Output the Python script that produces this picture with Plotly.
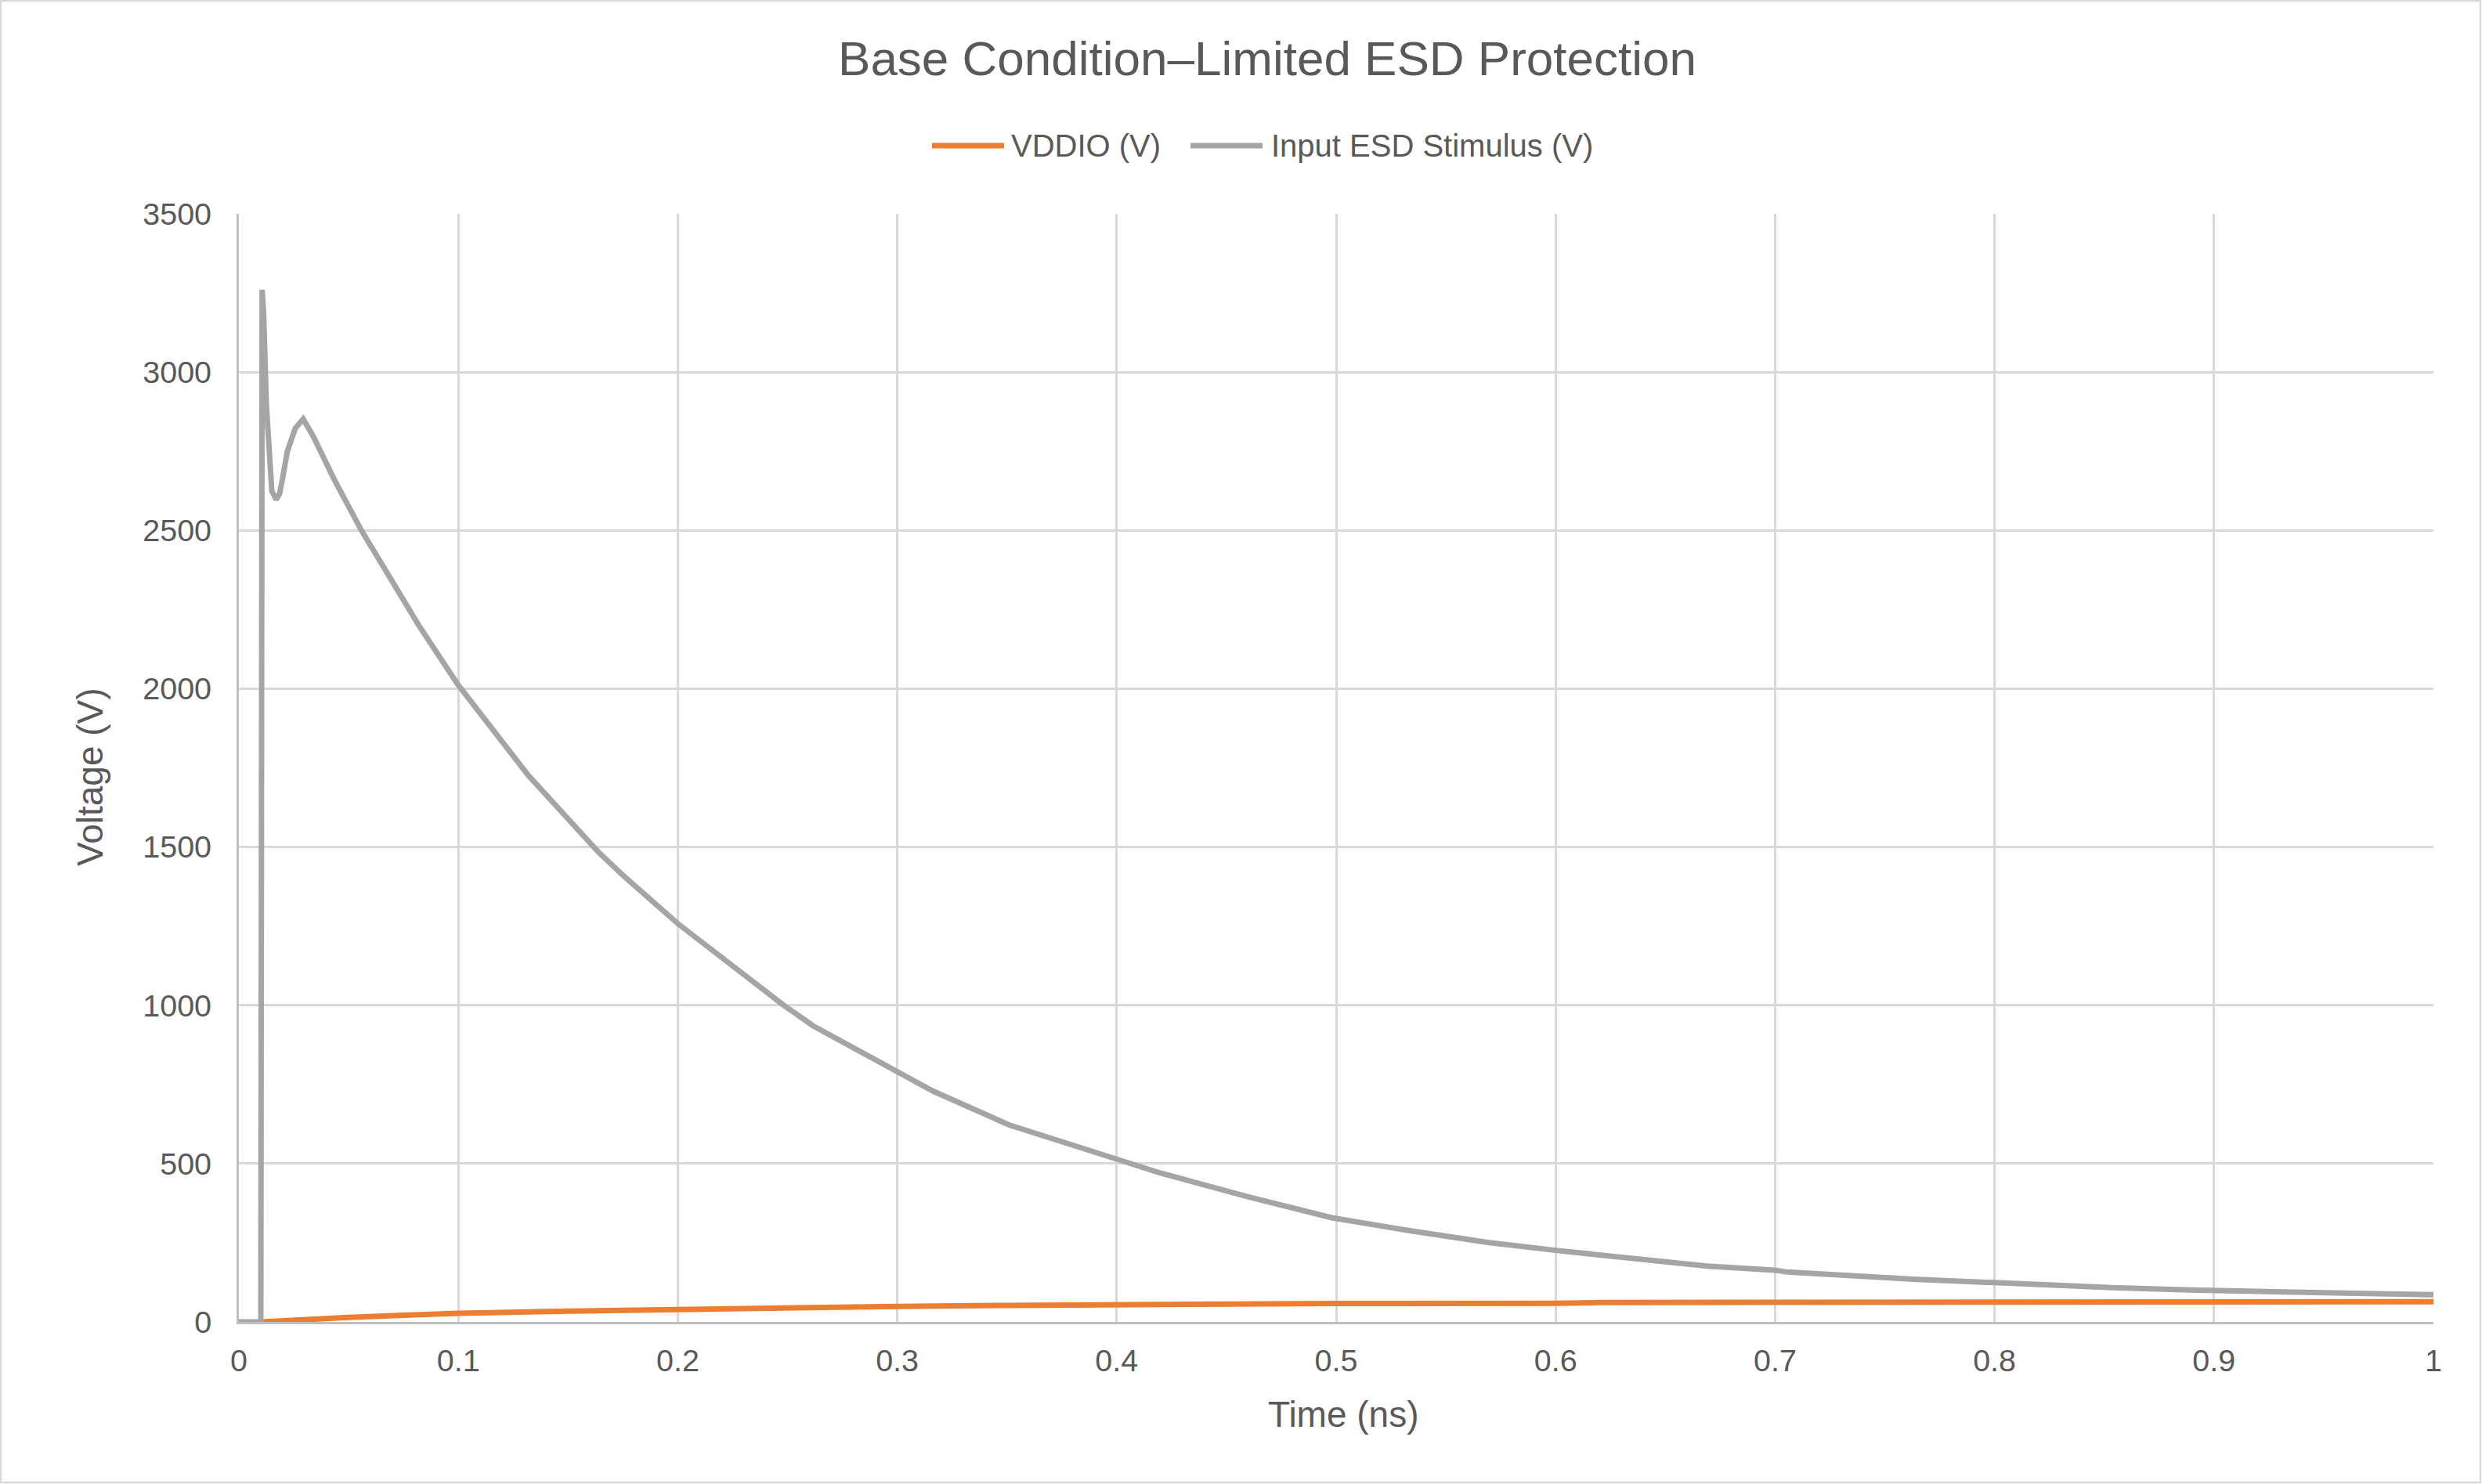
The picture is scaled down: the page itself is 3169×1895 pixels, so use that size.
import plotly.graph_objects as go

# ---- data ----
time_vddio = [0.0100, 0.0200, 0.0330, 0.0500, 0.0750, 0.100, 0.150, 0.200, 0.250, 0.300,
              0.350, 0.400, 0.450, 0.500, 0.600, 0.620, 0.700, 0.800, 0.900, 0.950, 0.980, 1.000]
vddio = [0, 4, 9, 14, 21, 27, 34, 40, 45, 49,
         52, 55, 57, 58, 59, 61, 62, 62, 62, 62, 64, 64]

time_esd = [0.0, 0.0100, 0.0106, 0.0113, 0.0125, 0.0137, 0.0150, 0.0170, 0.0185, 0.0198,
            0.0221, 0.0257, 0.0293, 0.0339, 0.0405, 0.0435, 0.0560, 0.0704, 0.0745, 0.0820,
            0.0998, 0.1121, 0.1319, 0.1640, 0.1756, 0.2000, 0.2481, 0.2617, 0.2800, 0.3000,
            0.3163, 0.3510, 0.3866, 0.4200, 0.4600, 0.4980, 0.5335, 0.5690, 0.6000, 0.6270,
            0.6690, 0.7000, 0.7050, 0.7630, 0.8000, 0.8536, 0.8890, 0.9000, 0.9500, 1.0000]
esd_stimulus = [0, 0, 3260, 3180, 2900, 2730, 2625, 2597, 2615, 2660,
                2750, 2822, 2852, 2797, 2700, 2660, 2498, 2331, 2285, 2200,
                2013, 1902, 1726, 1483, 1407, 1258, 1001, 935, 866, 786,
                729, 622, 543, 470, 395, 329, 288, 251, 226, 205,
                176, 163, 158, 135, 123, 108, 101, 99, 92, 86]

series_names = ["VDDIO (V)", "Input ESD Stimulus (V)"]
series_colors = ["#ED7D31", "#A5A5A5"]

x_ticks = [0, 0.1, 0.2, 0.3, 0.4, 0.5, 0.6, 0.7, 0.8, 0.9, 1]
y_ticks = [0, 500, 1000, 1500, 2000, 2500, 3000, 3500]

TEXT = "#595959"
FONT = "Liberation Sans, Arial, sans-serif"

# plot area in px (figure is 3169 x 1895)
W, H = 3169, 1895
L, R, T, B = 305, 62, 273, 207
PW, PH = W - L - R, H - T - B


def px_x(px):
    return (px - L) / PW


def px_y(py):
    return (H - B - py) / PH


fig = go.Figure()
fig.add_trace(go.Scatter(x=time_vddio, y=vddio, mode="lines", name=series_names[0],
                         line=dict(color=series_colors[0], width=7), showlegend=False))
fig.add_trace(go.Scatter(x=time_esd, y=esd_stimulus, mode="lines", name=series_names[1],
                         line=dict(color=series_colors[1], width=7), showlegend=False))

axis_common = dict(
    showgrid=True, gridcolor="#D9D9D9", gridwidth=2.5,
    showline=True, linecolor="#BFBFBF", linewidth=3,
    zeroline=False, ticks="",
    tickfont=dict(family=FONT, size=39.5, color=TEXT),
)

fig.update_xaxes(range=[0, 1], tickvals=x_ticks, ticklabelstandoff=13, **axis_common)
fig.update_yaxes(range=[0, 3500], tickvals=y_ticks, tickformat="d", ticklabelstandoff=24, **axis_common)

# axis titles (placed as in the source, slightly off-centre)
fig.add_annotation(xref="paper", yref="paper", x=px_x(1715), y=px_y(1806),
                   xanchor="center", yanchor="middle", showarrow=False,
                   text="Time (ns)", font=dict(family=FONT, size=46, color=TEXT))
fig.add_annotation(xref="paper", yref="paper", x=px_x(115), y=px_y(992),
                   xanchor="center", yanchor="middle", showarrow=False, textangle=-90,
                   text="Voltage (V)", font=dict(family=FONT, size=46, color=TEXT))

# hand-drawn legend (long line samples, as in the source)
legend_items = [(1190, 1282, 1289), (1520, 1612, 1621)]
for (x0, x1, xt), name, color in zip(legend_items, series_names, series_colors):
    fig.add_shape(type="line", xref="paper", yref="paper",
                  x0=px_x(x0), x1=px_x(x1), y0=px_y(186), y1=px_y(186),
                  line=dict(color=color, width=7))
    fig.add_annotation(xref="paper", yref="paper", x=px_x(xt), y=px_y(186),
                       xanchor="left", yanchor="middle", showarrow=False,
                       text=name, font=dict(family=FONT, size=40, color=TEXT))

# chart-area border
fig.add_shape(type="rect", xref="paper", yref="paper",
              x0=px_x(1), x1=px_x(W - 2), y0=px_y(H - 2), y1=px_y(1),
              line=dict(color="#D9D9D9", width=2.5), fillcolor="rgba(0,0,0,0)")

fig.update_layout(
    width=W, height=H,
    margin=dict(l=L, r=R, t=T, b=B),
    paper_bgcolor="white", plot_bgcolor="white",
    title=dict(text="Base Condition–Limited ESD Protection", x=1618 / W, xanchor="center",
               y=1 - 74 / H, yanchor="middle", font=dict(family=FONT, size=62, color=TEXT)),
    font=dict(family=FONT, color=TEXT),
)

fig.write_html("out.html", config={"displayModeBar": False},
               post_script="document.body.style.margin='0';")
